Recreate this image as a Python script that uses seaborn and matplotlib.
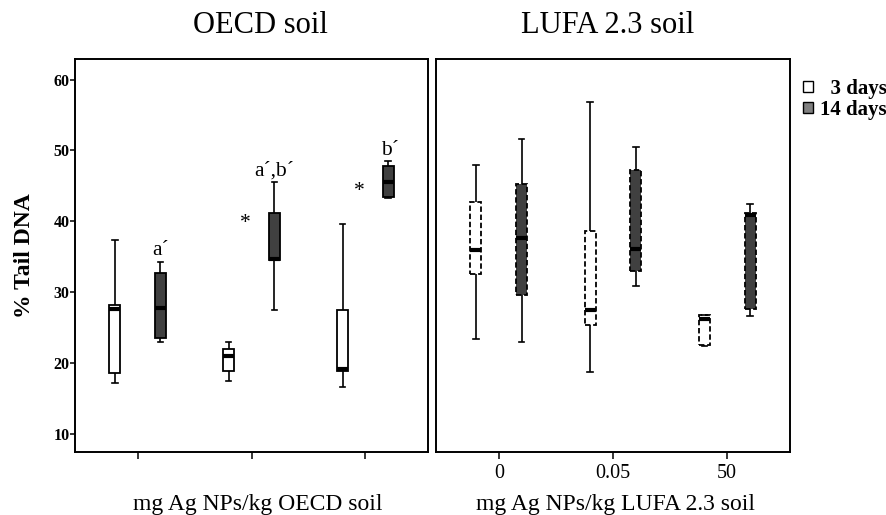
import numpy as np
import pandas as pd
import matplotlib
matplotlib.use("Agg")
import matplotlib.pyplot as plt
from matplotlib.patches import Patch
import seaborn as sns

# ---------------- data ----------------
conc = ["0", "0.05", "50"]
times = ["3 days", "14 days"]

# five-number summaries per box: [lower whisker, Q1, median, Q3, upper whisker]
oecd_3d = [[17.2, 18.5, 27.6, 28.1, 37.3],
           [17.4, 18.9, 20.9, 22.0, 23.0],
           [16.6, 18.9, 19.1, 27.4, 39.6]]
oecd_14d = [[23.0, 23.5, 27.7, 32.7, 34.3],
            [27.4, 34.5, 34.7, 41.1, 45.5],
            [43.2, 43.4, 45.5, 47.8, 48.5]]
lufa_3d = [[23.3, 32.5, 35.9, 42.7, 48.0],
           [18.7, 25.3, 27.5, 38.6, 56.8],
           [22.3, 22.5, 26.2, 26.8, 26.8]]
lufa_14d = [[23.0, 29.6, 37.6, 45.2, 51.6],
            [30.9, 33.0, 36.1, 47.2, 50.5],
            [26.6, 27.6, 40.8, 41.1, 42.4]]

yticks = [10, 20, 30, 40, 50, 60]

# significance annotations on OECD panel: (text, category position, value)
annot_text = ["a\u00b4", "a\u00b4,b\u00b4", "b\u00b4", "*", "*"]
annot_x = [0.20, 1.20, 2.22, 0.95, 1.95]
annot_y = [35.2, 46.5, 49.3, 39.0, 43.6]


def to_frame(three, fourteen):
    rows = []
    for t, groups in zip(times, [three, fourteen]):
        for c, vals in zip(conc, groups):
            for v in vals:
                rows.append({"conc": c, "time": t, "value": v})
    return pd.DataFrame(rows)


df_oecd = to_frame(oecd_3d, oecd_14d)
df_lufa = to_frame(lufa_3d, lufa_14d)

# ---------------- style ----------------
plt.rcParams["font.family"] = ["Liberation Serif", "DejaVu Serif"]
W, H = 887, 515
fig = plt.figure(figsize=(W / 100, H / 100), dpi=100)

bottom = 1 - 452 / H
height = (452 - 59) / H
ax1 = fig.add_axes([75 / W, bottom, 353 / W, height])
ax2 = fig.add_axes([436 / W, bottom, 354 / W, height])

pal = {"3 days": "white", "14 days": "#404040"}
common = dict(x="conc", y="value", hue="time", order=conc, hue_order=times,
              palette=pal, whis=(0, 100), width=0.8, gap=0.76,
              linecolor="black", linewidth=1.3, showfliers=False,
              medianprops=dict(linewidth=3.0, color="black"),
              whiskerprops=dict(linewidth=1.2),
              capprops=dict(linewidth=1.2),
              legend=False)

sns.boxplot(data=df_oecd, ax=ax1, **common)
sns.boxplot(data=df_lufa, ax=ax2, **common)

# dashed box outlines on the LUFA panel
for p in ax2.patches:
    p.set_linestyle((0, (3, 1.5)))

for ax in (ax1, ax2):
    ax.set_xlim(-0.55, 2.55)
    ax.set_ylim(7.4, 62.9)
    for s in ax.spines.values():
        s.set_linewidth(1.4)
        s.set_color("black")
    ax.set_ylabel("")
    ax.tick_params(axis="x", length=5, width=1.1, direction="out")

# left panel y axis
ax1.set_yticks(yticks)
ax1.set_yticklabels([str(v) for v in yticks], fontsize=11.5, fontweight="bold")
ax1.tick_params(axis="y", length=3.5, width=1.1, pad=0.5)
ax1.set_xticks(range(len(conc)))
ax1.set_xticklabels([])
ax1.set_ylabel("% Tail DNA", fontsize=17, fontweight="bold")
ax1.yaxis.set_label_coords(-0.112, 0.5)

# right panel
ax2.tick_params(axis="y", left=False, labelleft=False)
ax2.set_xticks(range(len(conc)))
ax2.set_xticklabels(conc, fontsize=14.5)
ax2.tick_params(axis="x", pad=4)

# titles
ax1.set_title("OECD soil", fontsize=22, pad=19, x=0.524)
ax2.set_title("LUFA 2.3 soil", fontsize=22, pad=19, x=0.486)

# x labels
ax1.set_xlabel("mg Ag NPs/kg OECD soil", fontsize=17)
ax2.set_xlabel("mg Ag NPs/kg LUFA 2.3 soil", fontsize=17)
for ax, xc in ((ax1, 0.518), (ax2, 0.506)):
    ax.xaxis.label.set_va("baseline")
    ax.xaxis.set_label_coords(xc, -(510 - 452) / (452 - 59))

# annotations
for t, x, y in zip(annot_text, annot_x, annot_y):
    ax1.text(x, y, t, ha="center", va="baseline", fontsize=15.5)

# legend
handles = [Patch(facecolor="white", edgecolor="black", linewidth=1.0),
           Patch(facecolor="#808080", edgecolor="black", linewidth=1.0)]
fig.legend(handles, ["  3 days", "14 days"], loc="upper right",
           bbox_to_anchor=(1.0, 1 - 79 / H), frameon=False,
           prop=dict(weight="bold", size=15), handlelength=0.45,
           handleheight=0.45, handletextpad=0.35, labelspacing=0.05,
           borderpad=0, borderaxespad=0)

fig.savefig("out.png", dpi=100)
